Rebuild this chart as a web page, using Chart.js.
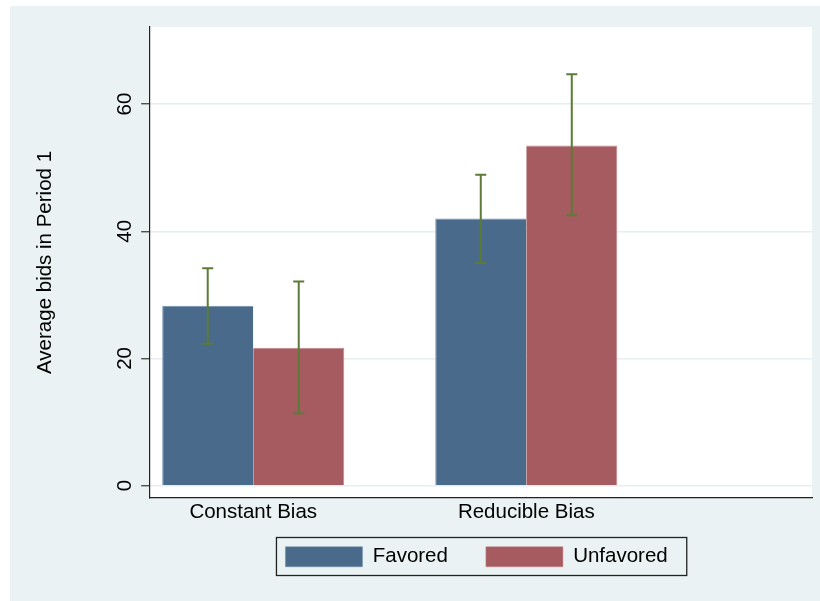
<!DOCTYPE html>
<html><head><meta charset="utf-8">
<script src="https://cdn.jsdelivr.net/npm/chart.js@4"></script>
<style>html,body{margin:0;padding:0;background:#fff}#wrap{width:820px;height:601px}</style>
</head><body><div id="wrap"><canvas id="c" width="820" height="601"></canvas></div>
<script>
// ---- data ----
const categories = ['Constant Bias', 'Reducible Bias'];
const seriesNames = ['Favored', 'Unfavored'];
const favoredMeans = [28.3, 42.0];
const unfavoredMeans = [21.7, 53.5];
const favoredLow = [22.3, 35.0];
const favoredHigh = [34.2, 48.9];
const unfavoredLow = [11.4, 42.5];
const unfavoredHigh = [32.1, 64.7];
const yTicks = [0, 20, 40, 60];
const yTitle = 'Average bids in Period 1';

Chart.defaults.font.family = "'Liberation Sans', Arial, Helvetica, sans-serif";
Chart.defaults.color = '#000';

const bgPlugin = {
  id: 'bg',
  beforeDraw(chart) {
    const {ctx, chartArea: a} = chart;
    ctx.save();
    ctx.fillStyle = '#ffffff'; ctx.fillRect(0, 0, chart.width, chart.height);
    ctx.fillStyle = '#EAF2F3'; ctx.fillRect(10, 6, chart.width - 10, chart.height - 6);
    ctx.fillStyle = '#ffffff'; ctx.fillRect(a.left, a.top, a.right - a.left, a.bottom - a.top);
    ctx.restore();
  }
};

const legendShift = {
  id: 'legendShift',
  afterLayout(chart) {
    const lg = chart.legend, a = chart.chartArea;
    const dx = (a.left + a.right) / 2 - 4 - (lg.left + lg.right) / 2;
    lg.left += dx; lg.right += dx;
    lg.top -= 18; lg.bottom -= 18;
  },
  afterDraw(chart) {
    const lg = chart.legend;
    const pad = lg.options.labels.padding;
    const start = (lg.left + pad + lg.right - lg.lineWidths[0]) / 2;
    const end = start + lg.lineWidths[0] - pad;
    const top = lg.top + pad;
    const ctx = chart.ctx;
    ctx.save();
    ctx.strokeStyle = '#222'; ctx.lineWidth = 1.3;
    ctx.strokeRect(start - 9, top - 9, end - start + 9 + 19, 20 + 18);
    ctx.restore();
  }
};

const errPlugin = {
  id: 'errbars',
  afterDatasetsDraw(chart) {
    const {ctx} = chart; const y = chart.scales.y;
    ctx.save();
    ctx.strokeStyle = '#5B7B36'; ctx.lineWidth = 2;
    chart.data.datasets.forEach((ds, di) => {
      const meta = chart.getDatasetMeta(di);
      meta.data.forEach((bar, i) => {
        const x = bar.x;
        const y1 = y.getPixelForValue(ds.errLow[i]);
        const y2 = y.getPixelForValue(ds.errHigh[i]);
        ctx.beginPath();
        ctx.moveTo(x, y1); ctx.lineTo(x, y2);
        ctx.moveTo(x - 5.5, y1); ctx.lineTo(x + 5.5, y1);
        ctx.moveTo(x - 5.5, y2); ctx.lineTo(x + 5.5, y2);
        ctx.stroke();
      });
    });
    ctx.restore();
  }
};

const toPoints = arr => arr.map((v, i) => ({x: i, y: v}));

new Chart(document.getElementById('c'), {
  type: 'bar',
  data: {
    datasets: [
      {label: seriesNames[0], data: toPoints(favoredMeans), errLow: favoredLow, errHigh: favoredHigh,
       backgroundColor: '#496A8B', borderColor: '#7390AB',
       borderWidth: {top: 1, left: 1, right: 0, bottom: 0}, borderSkipped: false},
      {label: seriesNames[1], data: toPoints(unfavoredMeans), errLow: unfavoredLow, errHigh: unfavoredHigh,
       backgroundColor: '#A55B5F', borderColor: '#C08487',
       borderWidth: {top: 1, left: 0, right: 1, bottom: 0}, borderSkipped: false}
    ]
  },
  options: {
    responsive: false,
    animation: false,
    devicePixelRatio: 1,
    categoryPercentage: 2 / 3,
    barPercentage: 1,
    layout: {padding: {left: 12, right: 8, top: 27, bottom: 6}},
    plugins: {
      legend: {
        position: 'bottom',
        labels: {boxWidth: 77, boxHeight: 20, padding: 38, color: '#000', font: {size: 20.5}}
      },
      tooltip: {enabled: false}
    },
    scales: {
      x: {
        type: 'linear',
        min: -0.381, max: 2.0465,
        offset: false,
        afterBuildTicks: s => { s.ticks = categories.map((c, i) => ({value: i})); },
        ticks: {callback: v => categories[v] ?? '', font: {size: 20.5}, color: '#000', padding: 2, maxRotation: 0, autoSkip: false},
        grid: {display: false, drawTicks: false},
        border: {display: true, color: '#222', width: 1.2}
      },
      y: {
        min: -1.93, max: 72.12,
        afterBuildTicks: s => { s.ticks = yTicks.map(v => ({value: v})); },
        ticks: {font: {size: 20.5}, color: '#000', padding: 4, minRotation: 90, maxRotation: 90, crossAlign: 'center'},
        grid: {color: '#E6EEF1', lineWidth: 1.5, drawTicks: true, tickLength: 8, tickColor: '#333', tickWidth: 1.2},
        border: {display: true, color: '#222', width: 1.2},
        title: {display: true, text: yTitle, font: {size: 20.5}, color: '#000', padding: {top: 21, bottom: 51}}
      }
    }
  },
  plugins: [bgPlugin, legendShift, errPlugin]
});
</script>
</body></html>
